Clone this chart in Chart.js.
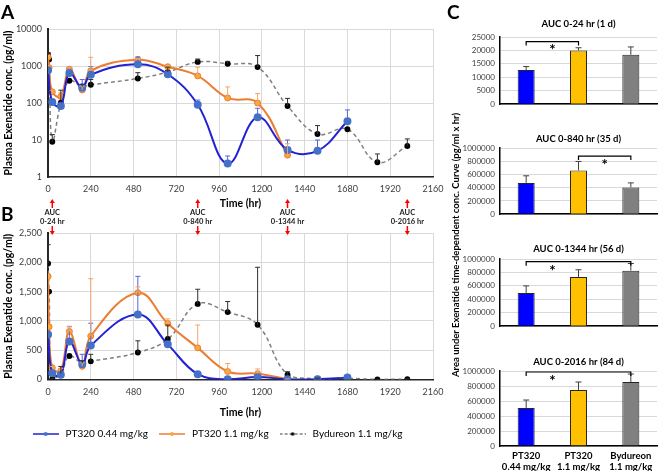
<!DOCTYPE html>
<html>
<head>
<meta charset="utf-8">
<script src="https://cdn.jsdelivr.net/npm/chart.js@4"></script>
<style>
body { margin: 0; background: #fff; }
#page { position: relative; width: 658px; height: 471px; overflow: hidden; font-family: Lato, "Open Sans", sans-serif; }
.box { position: absolute; }
canvas { display: block; }
.letter { position: absolute; font-weight: bold; font-size: 19px; line-height: 1; color: #000; }
#cTitle { position: absolute; left: 296px; top: 238px; width: 320px; height: 14px; line-height: 14px;
          text-align: center; font-weight: bold; font-size: 9.5px; color: #000; white-space: nowrap;
          transform: rotate(-90deg); transform-origin: center; }
</style>
</head>
<body>
<div id="page">
  <div class="box" style="left:0;top:196px"><canvas id="chartB" width="455" height="253"></canvas></div>
  <div class="box" style="left:0;top:0"><canvas id="chartA" width="455" height="212"></canvas></div>
  <div class="box" style="left:460px;top:14px"><canvas id="chartC1" width="198" height="100"></canvas></div>
  <div class="box" style="left:460px;top:130px"><canvas id="chartC2" width="198" height="94"></canvas></div>
  <div class="box" style="left:460px;top:240px"><canvas id="chartC3" width="198" height="96"></canvas></div>
  <div class="box" style="left:460px;top:352px"><canvas id="chartC4" width="198" height="119"></canvas></div>
  <div class="letter" style="left:1px;top:2px">A</div>
  <div class="letter" style="left:1px;top:204px">B</div>
  <div class="letter" style="left:447px;top:2px">C</div>
  <div id="cTitle">Area under Exenatide time-dependent conc. Curve (pg/ml x hr)</div>
</div>
<script>
// PK curves (pg/ml), same points on panel A (log) and B (linear)
const timeHours = [0.5, 6, 24, 72, 120, 192, 240, 504, 672, 840, 1008, 1176, 1344, 1512, 1680, 1848, 2016];
const pt320LowMean = [770, null, 107, 83, 650, 260, 580, 1110, 600, 90, 2.3, 41, 5.4, 5.1, 32, null, null];
const pt320LowSd = [0, 0, 15, 15, 250, 170, 380, 650, 30, 30, 1.4, 31, 4.6, 4.9, 33, 0, 0];
const pt320HighMean = [1760, 900, 200, 150, 820, 225, 740, 1480, 955, 540, 137, 100, 3.9, null, null, null, null];
const pt320HighSd = [0, 0, 20, 40, 90, 60, 980, 100, 80, 390, 135, 80, 4, 0, 0, 0, 0];
const bydureonMean = [1980, 1500, 9, 102, 400, 280, 310, 460, 690, 1290, 1150, 935, 83, 14.5, 19.5, 2.5, 6.9];
const bydureonSd = [320, 0, 5, 120, 0, 40, 120, 200, 240, 250, 180, 980, 50, 10, 0, 1.7, 3.8];
const seriesNames = ["PT320 0.44 mg/kg", "PT320 1.1 mg/kg", "Bydureon 1.1 mg/kg"];

const logTicks = [1, 10, 100, 1000, 10000];
const aucMarkTimes = [24, 840, 1344, 2016];
const aucMarkLabels = ["0-24 hr", "0-840 hr", "0-1344 hr", "0-2016 hr"];

// AUC panels (pg/ml x hr)
const aucGroups = [["PT320", "0.44 mg/kg"], ["PT320", "1.1 mg/kg"], ["Bydureon", "1.1 mg/kg"]];
const aucTitles = ["AUC 0-24 hr (1 d)", "AUC 0-840 hr (35 d)", "AUC 0-1344 hr (56 d)", "AUC 0-2016 hr (84 d)"];
const auc24Mean = [12700, 20000, 18400];
const auc24Sd = [1300, 1000, 2900];
const auc840Mean = [473000, 662000, 405000];
const auc840Sd = [107000, 135000, 68000];
const auc1344Mean = [493000, 733000, 827000];
const auc1344Sd = [107000, 107000, 106000];
const auc2016Mean = [507000, 747000, 853000];
const auc2016Sd = [106000, 106000, 107000];
const aucMax = [25000, 1000000, 1000000, 1000000];
const aucStep = [5000, 200000, 200000, 200000];
// significance brackets
const sigFrom = [0, 1, 0, 0];
const sigTo = [1, 2, 2, 2];
const sigLevel = [23300, 878000, 960000, 987000];
const sigStarAt = [0.5, 1.5, 0.5, 0.5];

Chart.defaults.font.family = "Lato, 'Open Sans', sans-serif";
Chart.defaults.color = '#404040';
const gridColor = '#d9d9d9';
const tickColor = '#404040';

function toPoints(mean) {
    var pts = [];
    for (let i = 0; i < timeHours.length; i++) {
	if (mean[i] != null) {
	    pts.push({ x: timeHours[i], y: mean[i] });
	}
    }
    return pts;
}
function toSd(mean, sd) {
    var out = [];
    for (let i = 0; i < timeHours.length; i++) {
	if (mean[i] != null) {
	    out.push(sd[i]);
	}
    }
    return out;
}

function makeLineDatasets() {
    return [
	{ label: seriesNames[0], data: toPoints(pt320LowMean), errSd: toSd(pt320LowMean, pt320LowSd), errColor: '#5563e6',
	  borderColor: '#2222d4', borderWidth: 2, pointRadius: 3, pointBackgroundColor: '#4472c4', pointBorderColor: '#4472c4',
	  tension: 0.4, fill: false },
	{ label: seriesNames[1], data: toPoints(pt320HighMean), errSd: toSd(pt320HighMean, pt320HighSd), errColor: '#f4a46a',
	  borderColor: '#ed7d31', borderWidth: 2, pointRadius: 3, pointBackgroundColor: '#f8a93c', pointBorderColor: '#ed7d31',
	  pointBorderWidth: 1, tension: 0.4, fill: false },
	{ label: seriesNames[2], data: toPoints(bydureonMean), errSd: toSd(bydureonMean, bydureonSd), errColor: '#303030',
	  borderColor: '#808080', borderWidth: 1.5, borderDash: [4, 3], pointRadius: 2.2, pointBackgroundColor: '#000', pointBorderColor: '#000',
	  tension: 0.4, fill: false }
    ];
}

// error bars (upper side only, like the excel plot)
const errorBars = {
    id: 'errorBars',
    afterDatasetsDraw(chart) {
	const ctx = chart.ctx;
	const xs = chart.scales.x, ys = chart.scales.y;
	const area = chart.chartArea;
	ctx.save();
	ctx.beginPath();
	ctx.rect(area.left, area.top - 2, area.right - area.left, area.bottom - area.top + 2);
	ctx.clip();
	chart.data.datasets.forEach(function (ds) {
	    if (!ds.errSd) return;
	    const cap = ds.capWidth || 5;
	    ctx.strokeStyle = ds.errColor;
	    ctx.lineWidth = 1;
	    ds.data.forEach(function (p, i) {
		const sd = ds.errSd[i];
		if (!sd) return;
		const xv = (typeof p === 'object') ? p.x : i;
		const yv = (typeof p === 'object') ? p.y : p;
		const x = xs.getPixelForValue(xv);
		const y1 = ys.getPixelForValue(yv);
		const y2 = ys.getPixelForValue(yv + sd);
		ctx.beginPath();
		ctx.moveTo(x, y1);
		ctx.lineTo(x, y2);
		ctx.moveTo(x - cap / 2, y2);
		ctx.lineTo(x + cap / 2, y2);
		ctx.stroke();
	    });
	});
	ctx.restore();
    }
};

// red AUC arrows above panel B
function drawArrowHead(ctx, x, y, dir) {
    ctx.beginPath();
    ctx.moveTo(x, y);
    ctx.lineTo(x - 2.5, y - dir * 4);
    ctx.lineTo(x + 2.5, y - dir * 4);
    ctx.closePath();
    ctx.fill();
}
const aucMarks = {
    id: 'aucMarks',
    afterDraw(chart) {
	const ctx = chart.ctx;
	const xs = chart.scales.x;
	const top = chart.chartArea.top;
	ctx.save();
	for (let i = 0; i < aucMarkTimes.length; i++) {
	    const x = xs.getPixelForValue(aucMarkTimes[i]);
	    ctx.strokeStyle = '#ff0000';
	    ctx.fillStyle = '#ff0000';
	    ctx.lineWidth = 1.5;
	    ctx.beginPath();
	    ctx.moveTo(x, top - 25);
	    ctx.lineTo(x, top - 31);
	    ctx.stroke();
	    drawArrowHead(ctx, x, top - 34, -1);
	    ctx.beginPath();
	    ctx.moveTo(x, top - 7);
	    ctx.lineTo(x, top - 1);
	    ctx.stroke();
	    drawArrowHead(ctx, x, top + 2, 1);
	    ctx.fillStyle = '#222';
	    ctx.font = "bold 7.5px Lato, 'Open Sans', sans-serif";
	    ctx.textAlign = 'center';
	    ctx.textBaseline = 'middle';
	    ctx.fillText('AUC', x, top - 20);
	    ctx.fillText(aucMarkLabels[i], x, top - 11);
	}
	ctx.restore();
    }
};

// bracket + star on the AUC bars
const sigBracket = {
    id: 'sigBracket',
    afterDatasetsDraw(chart, args, opts) {
	const ctx = chart.ctx;
	const xs = chart.scales.x, ys = chart.scales.y;
	const y = ys.getPixelForValue(opts.level);
	const x1 = xs.getPixelForValue(opts.from);
	const x2 = xs.getPixelForValue(opts.to);
	ctx.save();
	ctx.strokeStyle = '#000';
	ctx.lineWidth = 1.2;
	ctx.beginPath();
	ctx.moveTo(x1, y + 4);
	ctx.lineTo(x1, y);
	ctx.lineTo(x2, y);
	ctx.lineTo(x2, y + 4);
	ctx.stroke();
	ctx.fillStyle = '#000';
	ctx.font = "bold 15px Lato, 'Open Sans', sans-serif";
	ctx.textAlign = 'center';
	ctx.textBaseline = 'middle';
	ctx.fillText('*', xs.getPixelForValue(opts.star), y + 9);
	ctx.restore();
    }
};

function timeAxis(h, titlePadBottom) {
    return {
	type: 'linear', min: 0, max: 2160,
	afterFit: function (s) { s.height = h; },
	ticks: { stepSize: 240, autoSkip: false, maxRotation: 0, callback: v => String(v), font: { size: 9 }, color: tickColor, padding: 7 },
	grid: { color: gridColor, drawTicks: false },
	border: { color: '#262626', width: 1.5 },
	title: { display: true, text: 'Time (hr)', font: { size: 10.5, weight: 'bold' }, color: '#000', padding: { top: 0, bottom: titlePadBottom } }
    };
}
function concTitle() {
    return { display: true, text: 'Plasma Exenatide conc. (pg/ml)', font: { size: 10.5, weight: 'bold' }, color: '#000', padding: { top: 2, bottom: 0 } };
}

// Panel A: log scale
new Chart(document.getElementById('chartA'), {
    type: 'line',
    data: { datasets: makeLineDatasets() },
    options: {
	responsive: false, animation: false, locale: 'en-US',
	layout: { padding: { top: 29, right: 22, left: 0, bottom: 0 } },
	plugins: { legend: { display: false }, tooltip: { enabled: false } },
	scales: {
	    x: timeAxis(35, 2),
	    y: {
		type: 'logarithmic', min: 1, max: 10000,
		afterBuildTicks: function (s) { s.ticks = logTicks.map(v => ({ value: v })); },
		afterFit: function (s) { s.width = 48; },
		ticks: { callback: v => String(v), font: { size: 9 }, color: tickColor, padding: 6 },
		grid: { color: gridColor, drawTicks: false },
		border: { color: '#262626', width: 2 },
		title: concTitle()
	    }
	}
    },
    plugins: [errorBars]
});

// legend icons: line with marker in the middle
function legendIcon(color, dash, dotColor, r) {
    const c = document.createElement('canvas');
    c.width = 26; c.height = 8;
    const g = c.getContext('2d');
    g.strokeStyle = color; g.lineWidth = 1.5; g.setLineDash(dash);
    g.beginPath(); g.moveTo(0, 4); g.lineTo(26, 4); g.stroke();
    g.fillStyle = dotColor;
    g.beginPath(); g.arc(13, 4, r, 0, Math.PI * 2); g.fill();
    return c;
}
const legendIcons = [
    legendIcon('#2222d4', [], '#4472c4', 2),
    legendIcon('#ed7d31', [], '#f8a93c', 2),
    legendIcon('#808080', [3, 2], '#000', 1.8)
];

// Panel B: linear scale
new Chart(document.getElementById('chartB'), {
    type: 'line',
    data: { datasets: makeLineDatasets() },
    options: {
	responsive: false, animation: false, locale: 'en-US',
	layout: { padding: { top: 37, right: 22, left: 0, bottom: 0 } },
	plugins: {
	    tooltip: { enabled: false },
	    legend: {
		position: 'bottom',
		labels: {
		    usePointStyle: true, pointStyleWidth: 30, padding: 9,
		    font: { size: 10 }, color: '#000',
		    generateLabels: function (chart) {
			return chart.data.datasets.map(function (ds, i) {
			    return { text: ds.label, pointStyle: legendIcons[i], datasetIndex: i, hidden: false,
				     fillStyle: ds.borderColor, strokeStyle: ds.borderColor, lineWidth: 0, fontColor: '#000' };
			});
		    }
		}
	    }
	},
	scales: {
	    x: timeAxis(40.5, 1.2),
	    y: {
		type: 'linear', min: 0, max: 2500,
		afterFit: function (s) { s.width = 48; },
		ticks: { stepSize: 500, font: { size: 9 }, color: tickColor, padding: 6 },
		grid: { color: gridColor, drawTicks: false },
		border: { color: '#262626', width: 2 },
		title: concTitle()
	    }
	}
    },
    plugins: [errorBars, aucMarks]
});

// Panel C: four AUC bar charts
const aucMeans = [auc24Mean, auc840Mean, auc1344Mean, auc2016Mean];
const aucSds = [auc24Sd, auc840Sd, auc1344Sd, auc2016Sd];
const aucColors = ['#0000ff', '#ffc000', '#808080'];
const titlePads = [[4.3, 7.3], [3.3, 3.3], [3.3, 4.3], [4.3, 3.3]];

function makeAucChart(id, k) {
    const showLabels = (k == 3);
    return new Chart(document.getElementById(id), {
	type: 'bar',
	data: {
	    labels: aucGroups,
	    datasets: [{
		data: aucMeans[k], errSd: aucSds[k], errColor: '#404040', capWidth: 6,
		backgroundColor: aucColors, borderColor: '#262626', borderWidth: 1,
		barPercentage: 0.65, categoryPercentage: 0.5
	    }]
	},
	options: {
	    responsive: false, animation: false,
	    layout: { padding: { right: 1, bottom: showLabels ? 0 : 2 } },
	    plugins: {
		legend: { display: false }, tooltip: { enabled: false },
		title: { display: true, fullSize: false, text: aucTitles[k], color: '#000',
			 font: { size: 9.5, weight: 'bold' }, padding: { top: titlePads[k][0], bottom: titlePads[k][1] } },
		sigBracket: { from: sigFrom[k], to: sigTo[k], level: sigLevel[k], star: sigStarAt[k] }
	    },
	    scales: {
		x: {
		    afterFit: function (s) { s.height = showLabels ? 25 : 0; },
		    ticks: { display: showLabels, font: { size: 9.5, weight: 'bold' }, color: '#000', padding: -4, maxRotation: 0 },
		    grid: { display: false },
		    border: { color: '#000', width: 1.5 }
		},
		y: {
		    min: 0, max: aucMax[k],
		    afterFit: function (s) { s.width = 40; },
		    ticks: { stepSize: aucStep[k], callback: v => String(v), font: { size: 8 }, color: tickColor, padding: 5 },
		    grid: { color: gridColor, drawTicks: false },
		    border: { color: '#000', width: 1.5 }
		}
	    }
	},
	plugins: [errorBars, sigBracket]
    });
}

makeAucChart('chartC1', 0);
makeAucChart('chartC2', 1);
makeAucChart('chartC3', 2);
makeAucChart('chartC4', 3);
</script>
</body>
</html>
